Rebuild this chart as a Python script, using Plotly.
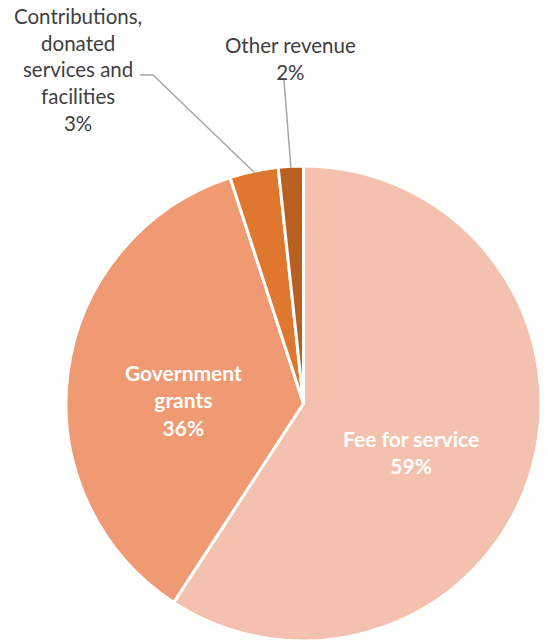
import math
import plotly.graph_objects as go

labels = ["Fee for service", "Government grants", "Contributions, donated services and facilities", "Other revenue"]
values = [59.2, 35.8, 3.3, 1.7]
display_text = ["Fee for service<br>59%", "Government<br>grants<br>36%",
                "Contributions,<br>donated<br>services and<br>facilities<br>3%", "Other revenue<br>2%"]
colors = ["#F4C1AE", "#EF9A72", "#DF772F", "#B85F22"]

W, H = 548, 641
CX, CY, R = 303.5, 403.5, 237.5
FONT = "Lato"

fig = go.Figure(go.Pie(
    labels=labels, values=values, sort=False, direction="clockwise", rotation=0,
    marker=dict(colors=colors, line=dict(color="white", width=3)),
    textinfo="none", hoverinfo="label+percent", showlegend=False,
    domain=dict(x=[(CX - R) / W, (CX + R) / W], y=[0, 2 * R / H]),
))

total = sum(values)
mids = []
acc = 0
for v in values:
    mids.append((acc + v / 2) / total * 2 * math.pi)
    acc += v

def px_at(angle, r):
    return CX + r * math.sin(angle), CY - r * math.cos(angle)

def to_paper(x, y):
    return x / W, 1 - y / H

annotations = []
shapes = []
# inside labels
inside = {0: (411, 452), 1: (183, 400)}
for i, (x, y) in inside.items():
    px, py = to_paper(x, y)
    annotations.append(dict(x=px, y=py, xref="paper", yref="paper", text="<b>" + display_text[i] + "</b>",
                            showarrow=False, font=dict(family=FONT, size=21, color="white"),
                            xanchor="center", yanchor="middle"))
# outside labels
outside = {2: (78, 69, [(140, 75), (153, 75)]), 3: (290, 59, [(284, 80)])}
for i, (x, y, pts) in outside.items():
    px, py = to_paper(x, y)
    annotations.append(dict(x=px, y=py, xref="paper", yref="paper", text=display_text[i],
                            showarrow=False, font=dict(family=FONT, size=20.5, color="#404040"),
                            xanchor="center", yanchor="middle"))
    ex, ey = px_at(mids[i], R - 1)
    allpts = pts + [(ex, ey)]
    path = "M " + " L ".join("%f,%f" % to_paper(a, b) for a, b in allpts)
    shapes.append(dict(type="path", path=path, xref="paper", yref="paper",
                       line=dict(color="#A6A6A6", width=1.5)))

fig.update_layout(width=W, height=H, margin=dict(l=0, r=0, t=0, b=0),
                  paper_bgcolor="white", plot_bgcolor="white",
                  annotations=annotations, shapes=shapes)
fig.write_html("out.html")
